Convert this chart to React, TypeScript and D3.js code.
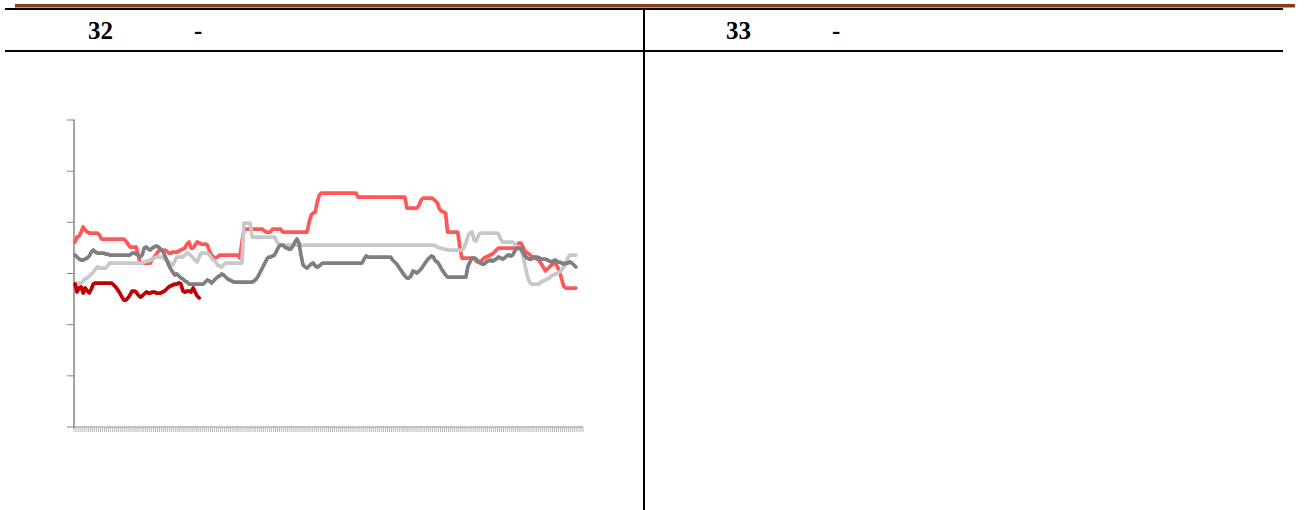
import React from "react";
import * as d3 from "d3";

// categories (daily observations along the x axis, no labels shown)
const categories: string[] = Array.from({ length: 250 }, (_, i) => `d${i + 1}`);

// series values (same arbitrary unit as the y axis, 0..307)
const seriesLightRed: number[] = [
  185, 190, 191, 195, 200, 197, 195, 194, 194, 194,
  194, 194, 192, 188, 188, 188, 188, 188, 188, 188,
  188, 188, 188, 188, 188, 186, 183, 180, 180, 180,
  180, 172, 164, 164, 164, 164, 164, 164, 168, 170,
  173, 176, 177, 177, 177, 176, 174, 174, 175, 175,
  175, 176, 177, 178, 179, 183, 185, 179, 179, 182,
  185, 184, 183, 183, 183, 182, 176, 172, 170, 169,
  170, 172, 172, 172, 172, 172, 172, 172, 172, 172,
  172, 169, 185, 197, 198, 198, 198, 198, 198, 198,
  198, 198, 198, 196, 195, 195, 195, 198, 198, 198,
  198, 198, 195, 195, 195, 195, 195, 195, 195, 195,
  195, 195, 195, 195, 195, 205, 212, 214, 215, 225,
  232, 234, 234, 234, 234, 234, 234, 234, 234, 234,
  234, 234, 234, 234, 234, 234, 234, 234, 234, 230,
  230, 230, 230, 230, 230, 230, 230, 230, 230, 230,
  230, 230, 230, 230, 230, 230, 230, 230, 230, 230,
  230, 230, 230, 219, 219, 219, 219, 219, 219, 222,
  227, 229, 229, 229, 229, 229, 228, 226, 224, 218,
  216, 215, 214, 195, 195, 195, 195, 195, 195, 180,
  169, 169, 169, 169, 169, 169, 169, 166, 165, 165,
  167, 169, 170, 171, 172, 173, 175, 177, 179, 179,
  179, 179, 179, 179, 179, 179, 179, 181, 184, 184,
  180, 176, 174, 173, 171, 170, 169, 168, 166, 163,
  160, 156, 158, 160, 162, 163, 164, 160, 155, 148,
  141, 139, 139, 139, 139, 139, 139,
];

const seriesDarkGrey: number[] = [
  172, 170, 168, 167, 167, 168, 169, 171, 175, 177,
  175, 174, 174, 174, 174, 173, 173, 172, 172, 172,
  172, 172, 172, 172, 172, 172, 172, 172, 174, 174,
  173, 172, 170, 172, 179, 180, 178, 177, 179, 180,
  181, 180, 178, 176, 172, 167, 162, 158, 155, 152,
  153, 151, 149, 148, 146, 145, 143, 143, 143, 143,
  143, 143, 143, 143, 145, 147, 146, 144, 146, 148,
  150, 151, 153, 152, 150, 148, 147, 146, 145, 145,
  145, 145, 145, 145, 145, 145, 145, 145, 146, 148,
  151, 155, 159, 163, 167, 170, 170, 171, 172, 176,
  180, 182, 182, 180, 179, 178, 178, 181, 185, 188,
  184, 172, 162, 160, 159, 161, 163, 164, 161, 160,
  161, 163, 164, 164, 164, 164, 164, 164, 164, 164,
  164, 164, 164, 164, 164, 164, 164, 164, 164, 164,
  164, 164, 168, 171, 170, 170, 170, 170, 170, 170,
  170, 170, 170, 170, 170, 170, 167, 165, 163, 160,
  157, 154, 151, 149, 149, 151, 156, 155, 154, 156,
  158, 161, 164, 167, 169, 171, 170, 166, 165, 162,
  158, 155, 152, 150, 150, 150, 150, 150, 150, 150,
  150, 150, 150, 161, 165, 169, 169, 168, 166, 164,
  163, 163, 165, 166, 167, 166, 167, 168, 170, 169,
  168, 169, 171, 172, 171, 172, 176, 179, 179, 178,
  175, 171, 169, 168, 168, 169, 170, 170, 169, 168,
  168, 168, 167, 166, 165, 166, 167, 165, 165, 164,
  163, 164, 164, 165, 164, 162, 160,
];

const seriesLightGrey: number[] = [
  141, 144, 144, 144, 146, 148, 149, 151, 153, 155,
  158, 160, 159, 159, 159, 159, 161, 164, 164, 164,
  164, 164, 164, 164, 164, 164, 164, 164, 164, 164,
  164, 164, 164, 164, 165, 166, 166, 167, 168, 169,
  170, 170, 170, 170, 168, 167, 165, 163, 162, 166,
  170, 170, 170, 170, 172, 174, 173, 171, 169, 167,
  165, 170, 174, 174, 174, 174, 172, 169, 167, 165,
  162, 161, 160, 162, 164, 164, 164, 164, 164, 164,
  164, 164, 164, 204, 204, 204, 204, 190, 190, 190,
  190, 190, 190, 190, 190, 190, 190, 190, 190, 186,
  183, 182, 182, 182, 182, 182, 182, 182, 182, 182,
  182, 182, 182, 182, 182, 182, 182, 182, 182, 182,
  182, 182, 182, 182, 182, 182, 182, 182, 182, 182,
  182, 182, 182, 182, 182, 182, 182, 182, 182, 182,
  182, 182, 182, 182, 182, 182, 182, 182, 182, 182,
  182, 182, 182, 182, 182, 182, 182, 182, 182, 182,
  182, 182, 182, 182, 182, 182, 182, 182, 182, 182,
  182, 182, 182, 182, 182, 182, 182, 181, 180, 179,
  179, 178, 178, 177, 177, 177, 177, 177, 177, 177,
  177, 179, 184, 191, 194, 195, 187, 186, 191, 194,
  194, 194, 194, 194, 194, 194, 194, 194, 193, 188,
  185, 185, 185, 185, 185, 185, 183, 181, 179, 177,
  172, 162, 152, 146, 143, 143, 143, 143, 143, 145,
  146, 147, 148, 149, 151, 152, 153, 154, 155, 157,
  160, 162, 169, 172, 172, 172, 172,
];

const seriesDarkRed: number[] = [
  143, 135, 139, 140, 134, 139, 136, 134, 138, 143,
  144, 144, 144, 144, 144, 144, 144, 144, 144, 142,
  140, 137, 134, 130, 127, 127, 129, 132, 136, 136,
  135, 132, 130, 131, 133, 135, 134, 134, 135, 135,
  134, 134, 134, 135, 136, 138, 140, 141, 142, 143,
  143, 144, 143, 136, 135, 136, 136, 135, 139, 135,
  131, 129,
];

const Y_MAX = 307;
const yTickSteps = [0, 1, 2, 3, 4, 5, 6];

const headerLeft = ["32", "-"];
const headerRight = ["33", "-"];

export default function App() {
  const x = d3.scaleBand<string>().domain(categories).range([74, 583]).paddingInner(0).paddingOuter(0);
  const y = d3.scaleLinear().domain([0, Y_MAX]).range([427, 120]);
  const cx = (i: number) => (x(categories[i]) as number) + x.bandwidth() / 2;
  const lineGen = d3
    .line<number>()
    .x((_, i) => cx(i))
    .y((d) => y(d));

  const series = [
    { values: seriesLightRed, color: "#ff5757" },
    { values: seriesLightGrey, color: "#c8c8c8" },
    { values: seriesDarkGrey, color: "#7f7f7f" },
    { values: seriesDarkRed, color: "#c00000" },
  ];

  const xTickPositions = [...categories.map((c) => x(c) as number), 583];
  const yTickValues = yTickSteps.map((k) => (k * Y_MAX) / 6);

  const font = "'Liberation Serif', 'Times New Roman', serif";

  return (
    <div style={{ position: "fixed", left: 0, top: 0 }}>
      <svg width={1307} height={510} style={{ display: "block", background: "#fff" }}>
        {/* page frame */}
        <rect x={15} y={4} width={1280} height={3.5} fill="#8a3c10" />
        <rect x={5} y={8} width={1278} height={2} fill="#000" />
        <rect x={5} y={50} width={1278} height={2} fill="#000" />
        <rect x={643} y={9} width={2} height={501} fill="#000" />
        <text x={88} y={39} fontFamily={font} fontWeight="bold" fontSize={25} fill="#000">
          {headerLeft[0]}
        </text>
        <text x={194} y={39} fontFamily={font} fontWeight="bold" fontSize={25} fill="#000">
          {headerLeft[1]}
        </text>
        <text x={726} y={39} fontFamily={font} fontWeight="bold" fontSize={25} fill="#000">
          {headerRight[0]}
        </text>
        <text x={832} y={39} fontFamily={font} fontWeight="bold" fontSize={25} fill="#000">
          {headerRight[1]}
        </text>

        {/* x axis ticks */}
        <g stroke="#a6a6a6" strokeWidth={0.8}>
          {xTickPositions.map((px, i) => (
            <line key={i} x1={px} x2={px} y1={427} y2={432} />
          ))}
        </g>
        <line x1={74} x2={583} y1={427} y2={427} stroke="#b0b0b0" strokeWidth={1.5} />

        {/* y axis */}
        <g stroke="#868686" strokeWidth={1}>
          {yTickValues.map((v, i) => (
            <line key={i} x1={67} x2={74} y1={y(v)} y2={y(v)} />
          ))}
        </g>
        <line x1={74} x2={74} y1={119.5} y2={428} stroke="#868686" strokeWidth={1.5} />

        {/* series */}
        {series.map((s, i) => (
          <path
            key={i}
            d={lineGen(s.values) || ""}
            fill="none"
            stroke={s.color}
            strokeWidth={3.75}
            strokeLinejoin="round"
            strokeLinecap="round"
          />
        ))}
      </svg>
    </div>
  );
}
